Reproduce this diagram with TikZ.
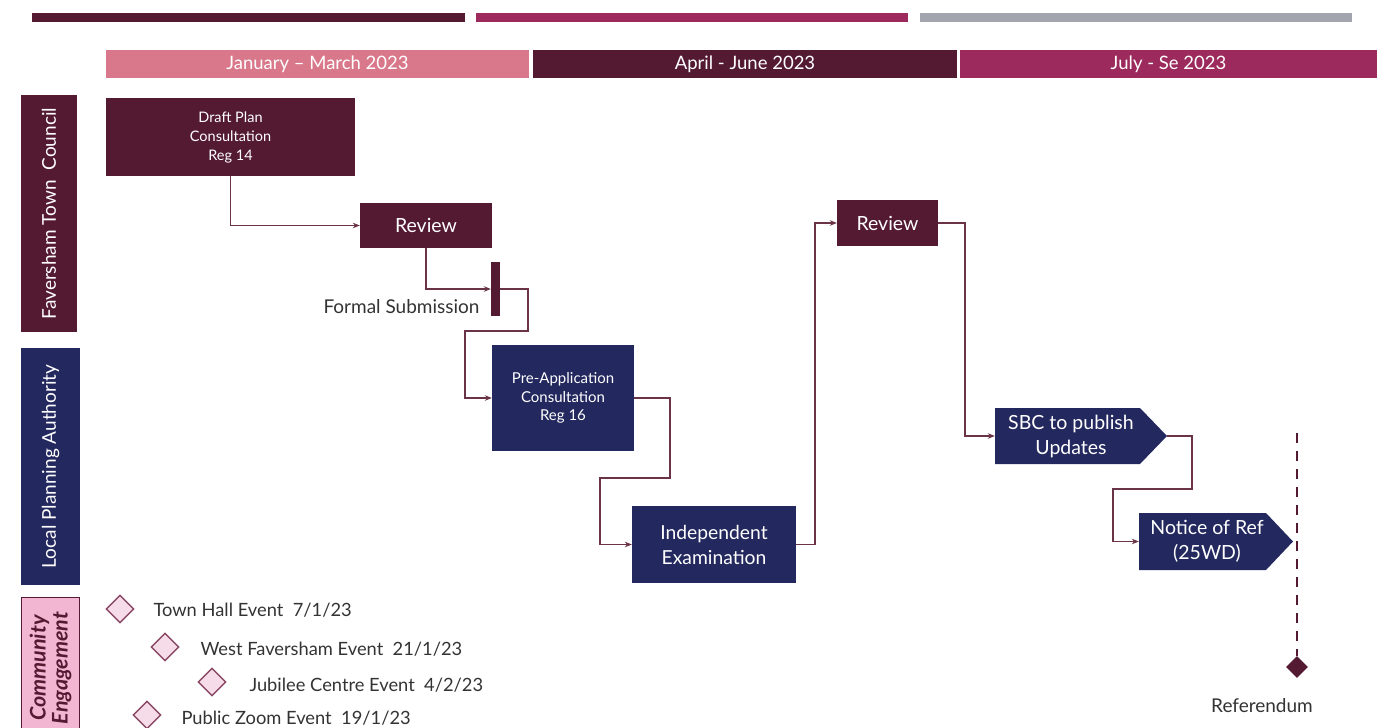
\documentclass[tikz,border=0pt]{standalone}
\usepackage{fontspec}
\setmainfont{Lato}
\usetikzlibrary{arrows.meta,calc,shapes.geometric}
\definecolor{maroon}{HTML}{531A32}
\definecolor{navy}{HTML}{23285E}
\definecolor{pinkh}{HTML}{D9788A}
\definecolor{magenta}{HTML}{9C2A5C}
\definecolor{greybar}{HTML}{A2A5AD}
\definecolor{cefill}{HTML}{F2B6D3}
\definecolor{dfill}{HTML}{F6DBE8}
\definecolor{dstroke}{HTML}{8A4A66}
\definecolor{conncol}{HTML}{6A3347}
\definecolor{txtgrey}{HTML}{333333}
\begin{document}
\begin{tikzpicture}[x=1pt,y=-1pt,
  hdr/.style={rectangle, inner sep=0pt, text=white, font=\fontsize{18.5}{20}\selectfont},
  lane/.style={rectangle, inner sep=0pt, rotate=90, text=white, font=\fontsize{19}{21}\selectfont},
  mbox/.style={rectangle, fill=maroon, inner sep=0pt, text=white, align=center},
  nbox/.style={rectangle, fill=navy, inner sep=0pt, text=white, align=center},
  arrowbox/.style={rectangle, inner sep=0pt, text=white, align=center,
    font=\fontsize{19.5}{25}\selectfont,
    path picture={\fill[navy] (path picture bounding box.north west)
      -- ($(path picture bounding box.north east)+(-27,0)$)
      -- ($(path picture bounding box.north east)!0.5!(path picture bounding box.south east)$)
      -- ($(path picture bounding box.south east)+(-27,0)$)
      -- (path picture bounding box.south west) -- cycle;}},
  conn/.style={draw=conncol, line width=1.1pt, -{Stealth[length=7pt,width=5.5pt]}},
  evd/.style={diamond, draw=dstroke, line width=1.4pt, fill=dfill, minimum width=28pt, minimum height=28pt, inner sep=0pt},
  evt/.style={anchor=west, text=txtgrey, font=\fontsize{18.3}{20}\selectfont}
]
\useasboundingbox (0,0) rectangle (1377,728);

% top bars
\fill[maroon] (32,13) rectangle (465,22);
\fill[magenta] (476,13) rectangle (908,22);
\fill[greybar] (920,13) rectangle (1352,22);

% period headers
\node[hdr, fill=pinkh, minimum width=423pt, minimum height=28pt] (h1) at (317.5,64) {January – March 2023};
\node[hdr, fill=maroon, minimum width=424pt, minimum height=28pt] (h2) at (745,64) {April - June 2023};
\node[hdr, fill=magenta, minimum width=417pt, minimum height=28pt] (h3) at (1168.5,64) {July - Se 2023};

% lanes
\node[lane, fill=maroon, minimum width=237pt, minimum height=56pt] (ftc) at (49,213.5) {Faversham Town\ \ Council};
\node[lane, fill=navy, minimum width=237pt, minimum height=59pt] (lpa) at (50.5,466.5) {Local Planning Authority};
\node[lane, fill=cefill, draw=maroon, line width=1pt, minimum width=150pt, minimum height=58pt, text=maroon, align=center,
  font=\fontsize{21.5}{22}\selectfont\bfseries\itshape] (ce) at (50.5,672) {};
\node[rotate=90, text=maroon, align=center, inner sep=0pt,
  font=\fontsize{21.5}{22}\selectfont\bfseries\itshape] (celbl) at (50.5,668) {Community\\Engagement};

% process boxes
\node[mbox, minimum width=249pt, minimum height=78pt, font=\fontsize{14.5}{19}\selectfont] (draft) at (230.5,137) {Draft Plan\\Consultation\\Reg 14};
\node[mbox, minimum width=132pt, minimum height=45pt, font=\fontsize{19.5}{20}\selectfont] (rev1) at (426,225.5) {Review};
\node[rectangle, fill=maroon, minimum width=9pt, minimum height=54pt, inner sep=0pt] (formal) at (495.5,289) {};
\node[anchor=east, text=txtgrey, font=\fontsize{19}{20}\selectfont] (formallbl) at (483,307) {Formal Submission};
\node[nbox, minimum width=142pt, minimum height=106pt, font=\fontsize{15}{18.5}\selectfont] (pre) at (563,398) {Pre-Application\\Consultation\\Reg 16};
\node[nbox, minimum width=164pt, minimum height=77pt, font=\fontsize{19.3}{25}\selectfont] (ie) at (714,544.5) {Independent\\Examination};
\node[mbox, minimum width=101pt, minimum height=46pt, font=\fontsize{19.5}{20}\selectfont] (rev2) at (887.5,223) {Review};
\node[arrowbox, minimum width=172pt, minimum height=56pt] (sbc) at (1081,436) {\hspace*{-20pt}SBC to publish\\\hspace*{-20pt}Updates};
\node[arrowbox, minimum width=154pt, minimum height=57pt] (notice) at (1216,541.5) {\hspace*{-18pt}Notice of Ref\\\hspace*{-18pt}(25WD)};

% connectors
\draw[conn] (draft.south) |- (rev1.west);
\draw[conn] (rev1.south) |- (formal.west);
\draw[conn] (formal.east) -- (528,289) -- (528,331) -- (465,331) |- (pre.west);
\draw[conn] (pre.east) -- (670,398) -- (670,478) -- (600,478) |- (ie.west);
\draw[conn] (ie.east) -- (815,544.5) |- (rev2.west);
\draw[conn] (rev2.east) -- (965,223) |- (sbc.west);
\draw[conn] (sbc.east) -- (1192,436) -- (1192,489) -- (1113,489) |- (notice.west);

% referendum
\coordinate (reftop) at (1297,433);
\node[diamond, fill=maroon, minimum width=22pt, minimum height=22pt, inner sep=0pt] (refd) at (1297,667) {};
\draw[maroon, line width=2.5pt, dash pattern=on 10pt off 8pt] (reftop) -- (refd.north);
\node[text=txtgrey, font=\fontsize{19}{20}\selectfont] (reflbl) at (1262,706) {Referendum};

% community events
\node[evd] (d1) at (120,609) {};
\node[evt] (t1) at (150,610) {Town Hall Event\ \ 7/1/23};
\node[evd] (d2) at (165,647) {};
\node[evt] (t2) at (197,649) {West Faversham Event\ \ 21/1/23};
\node[evd] (d3) at (212,682) {};
\node[evt] (t3) at (246,685) {Jubilee Centre Event\ \ 4/2/23};
\node[evd] (d4) at (147,715) {};
\node[evt] (t4) at (178,718) {Public Zoom Event\ \ 19/1/23};
\end{tikzpicture}
\end{document}
